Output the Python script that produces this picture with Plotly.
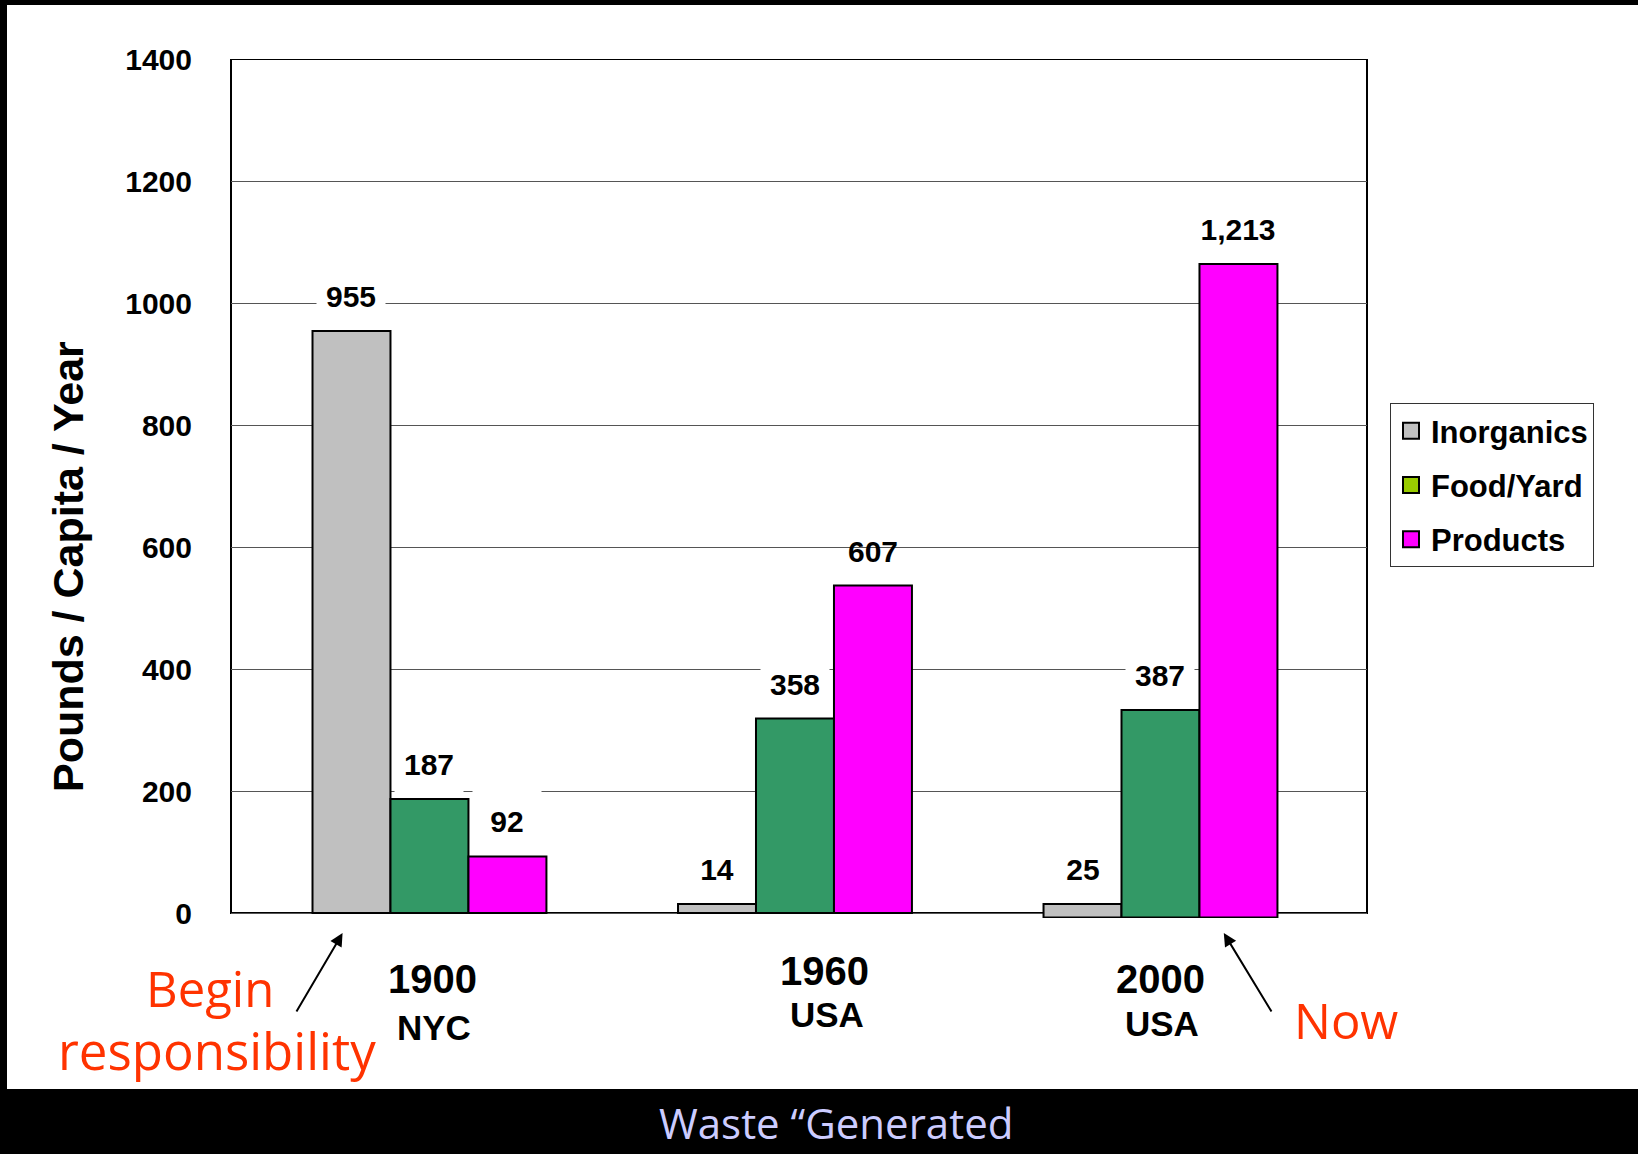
import plotly.graph_objects as go

# ---------------- data ----------------
categories = ["1900", "1960", "2000"]
category_places = ["NYC", "USA", "USA"]
series_names = ["Inorganics", "Food/Yard", "Products"]

# bar heights as drawn in the picture
inorganics = [954, 15, 22]
food_yard = [187, 319, 340]
products = [93, 537, 1071]
group_base = [0, 0, -7]          # the 2000 group sits slightly below the axis

# printed value labels
inorganics_labels = ["955", "14", "25"]
food_yard_labels = ["187", "358", "387"]
products_labels = ["92", "607", "1,213"]

y_tick_values = [0, 200, 400, 600, 800, 1000, 1200, 1400]

bar_colors = ["#C0C0C0", "#339966", "#FF00FF"]
legend_colors = ["#C0C0C0", "#99CC00", "#FF00FF"]

# ---------------- layout geometry ----------------
W, H = 1638, 1154
L, R, T, B = 231, 1367, 59, 918
X_RANGE = [-0.543, 2.565]
Y_RANGE = [-8, 1400]
BARGAP = 0.36

def px(xp):
    return (xp - L) / (R - L)

def py(yp):
    return (B - yp) / (B - T)

FONT = "Liberation Sans, Arial, sans-serif"
HUMAN = "Open Sans, DejaVu Sans, sans-serif"

fig = go.Figure()

values = [inorganics, food_yard, products]
labels = [inorganics_labels, food_yard_labels, products_labels]

for name, vals, col in zip(series_names, values, bar_colors):
    fig.add_trace(go.Bar(
        x=categories, y=vals, base=group_base, name=name,
        marker=dict(color=col, line=dict(color="black", width=2)),
        showlegend=False, hoverinfo="skip",
    ))

# legend-only entries (legend swatch colours differ from the bars in the original)
for name, col in zip(series_names, legend_colors):
    fig.add_trace(go.Scatter(
        x=[None], y=[None], mode="markers", name=name, legendgroup=name,
        marker=dict(symbol="square", size=16, color=col,
                    line=dict(color="black", width=2)),
    ))

unit_px = (R - L) / (X_RANGE[1] - X_RANGE[0])
bar_px = unit_px * (1 - BARGAP) / 3

annotations = []
for i, (vals, labs) in enumerate(zip(values, labels)):
    for j, cat in enumerate(categories):
        boxed = labs[j] != "607"
        annotations.append(dict(
            x=j, y=vals[j] + group_base[j], xref="x", yref="y",
            text=labs[j], showarrow=False, yshift=35,
            xshift=(i - 1) * bar_px,
            font=dict(family=FONT, size=30, color="black", weight="bold"),
            bgcolor="white" if boxed else "rgba(0,0,0,0)",
            width=62 if len(labs[j]) <= 3 else 90, height=58, borderpad=3,
            xanchor="center", yanchor="middle",
        ))

# category labels
cat_shift = [3, 30, 0]
cat_year_y = [979, 971, 979]
cat_place_y = [1027, 1015, 1023]
for j, cat in enumerate(categories):
    annotations.append(dict(
        x=j, y=py(cat_year_y[j]), xref="x", yref="paper",
        text=cat, showarrow=False, xshift=cat_shift[j],
        font=dict(family=FONT, size=40, color="black", weight="bold"),
        xanchor="center", yanchor="middle",
    ))
    annotations.append(dict(
        x=j, y=py(cat_place_y[j]), xref="x", yref="paper",
        text=category_places[j], showarrow=False, xshift=cat_shift[j] + 2,
        font=dict(family=FONT, size=35, color="black", weight="bold"),
        xanchor="center", yanchor="middle",
    ))

# y axis title
annotations.append(dict(
    x=px(68), y=py(567), xref="paper", yref="paper",
    text="Pounds / Capita / Year", textangle=-90, showarrow=False,
    font=dict(family=FONT, size=43, color="black", weight="bold"),
    xanchor="center", yanchor="middle",
))

# red call-outs
annotations += [
    dict(x=px(210), y=py(988), xref="paper", yref="paper", text="Begin",
         showarrow=False, font=dict(family=HUMAN, size=49, color="#FF3300"),
         xanchor="center", yanchor="middle"),
    dict(x=px(217), y=py(1050), xref="paper", yref="paper", text="responsibility",
         showarrow=False, font=dict(family=HUMAN, size=51, color="#FF3300"),
         xanchor="center", yanchor="middle"),
    dict(x=px(1346), y=py(1020), xref="paper", yref="paper", text="Now",
         showarrow=False, font=dict(family=HUMAN, size=49, color="#FF3300"),
         xanchor="center", yanchor="middle"),
    # arrows
    dict(x=px(342.6), y=py(933), xref="paper", yref="paper", text="",
         showarrow=True, ax=-47, ay=80, arrowhead=2, arrowsize=1.3,
         arrowwidth=2, arrowcolor="black", standoff=0),
    dict(x=px(1223.8), y=py(933), xref="paper", yref="paper", text="",
         showarrow=True, ax=48.6, ay=80, arrowhead=2, arrowsize=1.3,
         arrowwidth=2, arrowcolor="black", standoff=0),
    # slide footer
    dict(x=px(836), y=py(1122), xref="paper", yref="paper", text="Waste “Generated",
         showarrow=False, font=dict(family=HUMAN, size=42, color="#CCCCFF"),
         xanchor="center", yanchor="middle"),
]

shapes = [
    # plot frame from 0 to 1400
    dict(type="rect", xref="paper", yref="y", x0=0, x1=1, y0=0, y1=1400,
         line=dict(color="black", width=2), fillcolor="rgba(0,0,0,0)",
         layer="between"),
    # slide black bands
    dict(type="rect", xref="paper", yref="paper", x0=px(0), x1=px(W),
         y0=py(0), y1=py(5), fillcolor="black", line=dict(width=0)),
    dict(type="rect", xref="paper", yref="paper", x0=px(0), x1=px(7),
         y0=py(0), y1=py(H), fillcolor="black", line=dict(width=0)),
    dict(type="rect", xref="paper", yref="paper", x0=px(0), x1=px(W),
         y0=py(1089), y1=py(H), fillcolor="black", line=dict(width=0)),
]

fig.update_layout(
    width=W, height=H,
    margin=dict(l=L, r=W - R, t=T, b=H - B, pad=0),
    paper_bgcolor="white", plot_bgcolor="white",
    barmode="group", bargap=BARGAP, bargroupgap=0,
    font=dict(family=FONT, color="black"),
    xaxis=dict(type="category", range=X_RANGE, showticklabels=False,
               showgrid=False, zeroline=False, showline=False, ticks=""),
    yaxis=dict(range=Y_RANGE, tickvals=y_tick_values, showgrid=True,
               gridcolor="#555555", gridwidth=1, zeroline=False,
               showline=False, ticks="", ticklabelstandoff=38,
               tickfont=dict(family=FONT, size=30, color="black", weight="bold")),
    legend=dict(x=px(1390), y=py(403), xanchor="left", yanchor="top",
                bgcolor="white", bordercolor="#333333", borderwidth=1,
                traceorder="grouped", tracegroupgap=11,
                font=dict(family=FONT, size=31, color="black", weight="bold")),
    annotations=annotations,
    shapes=shapes,
    showlegend=True,
)

fig.write_html(
    "out.html",
    config={"displayModeBar": False},
    post_script="document.body.style.margin='0';document.body.style.overflow='hidden';",
)
